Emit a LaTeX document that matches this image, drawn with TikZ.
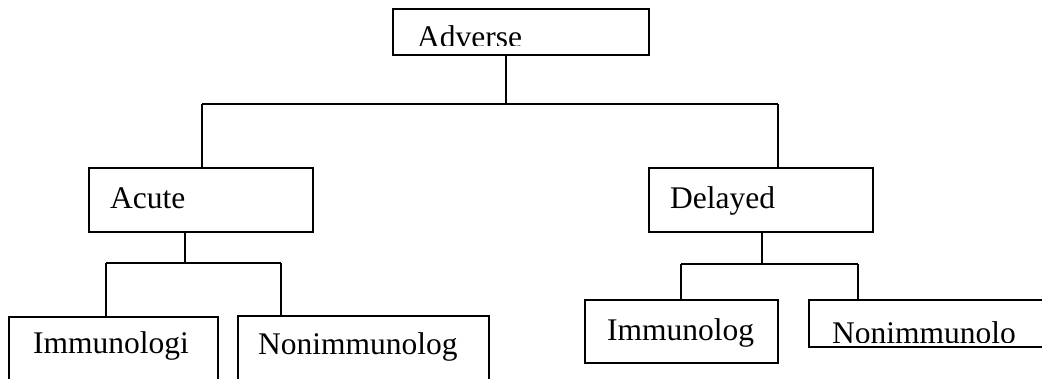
\documentclass[tikz,border=0pt]{standalone}
\usepackage{fontspec}
\setmainfont{Liberation Serif}
\begin{document}
\begin{tikzpicture}[x=1pt,y=-1pt,
  box/.style={draw=black, line width=1.6pt, rectangle, inner sep=0pt, outer sep=0pt, anchor=north west},
  lbl/.style={anchor=base west, inner sep=0pt, font=\fontsize{31.5}{36}\selectfont},
  conn/.style={draw=black, line width=1.6pt}]
\useasboundingbox (0,0) rectangle (1042,378);
\clip (0,0) rectangle (1042,378);
% boxes
\node[box, minimum width=256pt, minimum height=46pt] (adv) at (393,9) {};
\node[box, minimum width=224pt, minimum height=64pt] (acute) at (89,168) {};
\node[box, minimum width=224pt, minimum height=64pt] (delayed) at (649,168) {};
\node[box, minimum width=209pt, minimum height=90pt] (imm1) at (9,317) {};
\node[box, minimum width=251pt, minimum height=90pt] (non1) at (238,316) {};
\node[box, minimum width=193pt, minimum height=63pt] (imm2) at (585,300) {};
\node[box, minimum width=250pt, minimum height=47pt] (non2) at (809,300) {};
% labels
\begin{scope}
  \clip (393,9) rectangle (649,45);
  \node[lbl] (tadv) at (417,47) {Adverse};
\end{scope}
\node[lbl] (tacute) at (110,208) {Acute};
\node[lbl] (tdelayed) at (670,208) {Delayed};
\node[lbl] (timm1) at (33,353) {Immunologi};
\node[lbl] (tnon1) at (258,354) {Nonimmunolog};
\node[lbl] (timm2) at (607,340) {Immunolog};
\begin{scope}
  \clip (809,300) rectangle (1042,342);
  \node[lbl] (tnon2) at (832,343) {Nonimmunolo};
\end{scope}
% junction coordinates
\coordinate (j0) at (506,104);
\coordinate (jl) at (202,104);
\coordinate (jr) at (778,104);
\coordinate (ja) at (185,263);
\coordinate (ja1) at (106,263);
\coordinate (ja2) at (281,263);
\coordinate (jd) at (762,264);
\coordinate (jd1) at (681,264);
\coordinate (jd2) at (858,264);
% connectors
\draw[conn] (adv.south -| j0) -- (j0);
\draw[conn] (jl) -- (jr);
\draw[conn] (jl) -- (acute.north -| jl);
\draw[conn] (jr) -- (delayed.north -| jr);
\draw[conn] (acute.south -| ja) -- (ja);
\draw[conn] (ja1) -- (ja2);
\draw[conn] (ja1) -- (imm1.north -| ja1);
\draw[conn] (ja2) -- (non1.north -| ja2);
\draw[conn] (delayed.south -| jd) -- (jd);
\draw[conn] (jd1) -- (jd2);
\draw[conn] (jd1) -- (imm2.north -| jd1);
\draw[conn] (jd2) -- (non2.north -| jd2);
\end{tikzpicture}
\end{document}
